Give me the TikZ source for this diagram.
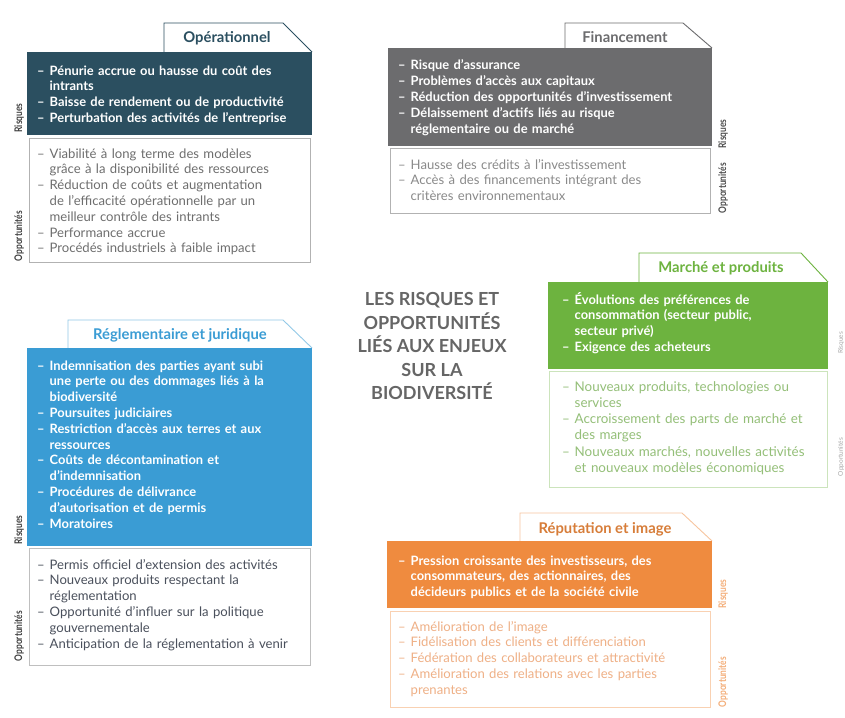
\documentclass[tikz,border=0pt]{standalone}
\usepackage{fontspec}
\setmainfont{Lato}
\definecolor{cteal}{HTML}{2B4F60}
\definecolor{cgrey}{HTML}{6C6C6E}
\definecolor{cgreen}{HTML}{6DB33F}
\definecolor{cblue}{HTML}{3A9CD4}
\definecolor{corange}{HTML}{EF8B3F}
\definecolor{tgrey}{HTML}{6E6E6E}
\definecolor{tgrey2}{HTML}{8A8A8A}
\definecolor{tgreen}{HTML}{94BF78}
\definecolor{tblue}{HTML}{4A505C}
\definecolor{torange}{HTML}{EFB086}
\definecolor{ctitle}{HTML}{666666}
\newcommand{\dl}{\makebox[12.5pt][l]{–}}
\newcommand{\ind}{\hspace*{12.5pt}}
\tikzset{
  riskbox/.style={anchor=base west, inner sep=0pt, text width=300pt, align=left, text=white,
    font=\fontsize{12.9}{15.8}\selectfont\bfseries},
  oppbox/.style={anchor=base west, inner sep=0pt, text width=320pt, align=left,
    font=\fontsize{13.1}{15.8}\selectfont},
  tabtitle/.style={inner sep=0pt, font=\fontsize{14.8}{16}\selectfont\bfseries},
  sidelab/.style={rotate=90, inner sep=0pt, font=\fontsize{10.5}{11}\selectfont\bfseries},
  tabline/.style={fill=white, line width=0.9pt},
  oppframe/.style={line width=0.8pt, fill=white}
}
\begin{document}
\begin{tikzpicture}[x=1pt,y=-1pt]
\useasboundingbox (0,0) rectangle (845,717);
\fill[white] (0,0) rectangle (845,717);

% ---------- Opérationnel ----------
\draw[tabline, draw=cteal] (164,52) -- (164,23) -- (283,23) -- (312,52);
\node[tabtitle, text=cteal] (t1) at (227,38) {Opérationnel};
\fill[cteal] (27,52) rectangle (312,135);
\draw[oppframe, draw=black!30] (29,138) rectangle (310,262);
\node[riskbox] (r1) at (37,75) {\dl Pénurie accrue ou hausse du coût des\\
\ind intrants\\
\dl Baisse de rendement ou de productivité\\
\dl Perturbation des activités de l’entreprise};
\node[oppbox, text=tgrey] (o1) at (37,158) {\dl Viabilité à long terme des modèles\\
\ind grâce à la disponibilité des ressources\\
\dl Réduction de coûts et augmentation\\
\ind de l’efficacité opérationnelle par un\\
\ind meilleur contrôle des intrants\\
\dl Performance accrue\\
\dl Procédés industriels à faible impact};
\node[sidelab, text=black!75] (s1a) at (19,118) {\scalebox{0.8}[1]{Risques}};
\node[sidelab, text=black!75] (s1b) at (19,236) {\scalebox{0.8}[1]{Opportunités}};

% ---------- Financement ----------
\draw[tabline, draw=cgrey] (565,48) -- (565,23) -- (683,23) -- (712,48);
\node[tabtitle, text=cgrey] (t2) at (625,37) {Financement};
\fill[cgrey] (388,48) rectangle (712,146);
\draw[oppframe, draw=black!30] (390,148) rectangle (710,213);
\node[riskbox] (r2) at (398,70) {\dl Risque d’assurance\\
\dl Problèmes d’accès aux capitaux\\
\dl Réduction des opportunités d’investissement\\
\dl Délaissement d’actifs liés au risque\\
\ind réglementaire ou de marché};
\node[oppbox, text=tgrey2] (o2) at (398,169) {\dl Hausse des crédits à l’investissement\\
\dl Accès à des financements intégrant des\\
\ind critères environnementaux};
\node[sidelab, text=black!70] (s2a) at (723,134) {\scalebox{0.8}[1]{Risques}};
\node[sidelab, text=black!70] (s2b) at (723,188) {\scalebox{0.8}[1]{Opportunités}};

% ---------- Marché et produits ----------
\draw[tabline, draw=cgreen] (639,282) -- (639,253) -- (801,253) -- (828,282);
\node[tabtitle, text=cgreen] (t3) at (721,268) {Marché et produits};
\fill[cgreen] (548,282) rectangle (828,369);
\draw[oppframe, draw=cgreen!35] (549,371) rectangle (827,487);
\node[riskbox] (r3) at (562,304) {\dl Évolutions des préférences de\\
\ind consommation (secteur public,\\
\ind secteur privé)\\
\dl Exigence des acheteurs};
\node[oppbox, text=tgreen, font=\fontsize{13.4}{16.3}\selectfont] (o3) at (562,391) {\dl Nouveaux produits, technologies ou\\
\ind services\\
\dl Accroissement des parts de marché et\\
\ind des marges\\
\dl Nouveaux marchés, nouvelles activités\\
\ind et nouveaux modèles économiques};
\node[sidelab, text=black!35, font=\fontsize{6.5}{7}\selectfont] (s3a) at (841,343) {Risques};
\node[sidelab, text=black!35, font=\fontsize{6.5}{7}\selectfont] (s3b) at (841,457) {Opportunités};

% ---------- Réglementaire et juridique ----------
\draw[tabline, draw=cblue!55] (68,348) -- (68,320) -- (283,320) -- (312,348);
\node[tabtitle, text=cblue] (t4) at (180,335) {Réglementaire et juridique};
\fill[cblue] (27,348) rectangle (312,546);
\draw[oppframe, draw=black!25] (29,548) rectangle (310,665);
\node[riskbox] (r4) at (37,370) {\dl Indemnisation des parties ayant subi\\
\ind une perte ou des dommages liés à la\\
\ind biodiversité\\
\dl Poursuites judiciaires\\
\dl Restriction d’accès aux terres et aux\\
\ind ressources\\
\dl Coûts de décontamination et\\
\ind d’indemnisation\\
\dl Procédures de délivrance\\
\ind d’autorisation et de permis\\
\dl Moratoires};
\node[oppbox, text=tblue] (o4) at (37,569) {\dl Permis officiel d’extension des activités\\
\dl Nouveaux produits respectant la\\
\ind réglementation\\
\dl Opportunité d’influer sur la politique\\
\ind gouvernementale\\
\dl Anticipation de la réglementation à venir};
\node[sidelab, text=black!75] (s4a) at (19,530) {\scalebox{0.8}[1]{Risques}};
\node[sidelab, text=black!75] (s4b) at (19,636) {\scalebox{0.8}[1]{Opportunités}};

% ---------- Réputation et image ----------
\draw[tabline, draw=corange!50] (520,541) -- (520,513) -- (682,513) -- (712,541);
\node[tabtitle, text=corange!90!black] (t5) at (605,529) {Réputation et image};
\fill[corange] (387,541) rectangle (712,608);
\draw[oppframe, draw=corange!40] (390,611) rectangle (710,707);
\node[riskbox] (r5) at (398,565) {\dl Pression croissante des investisseurs, des\\
\ind consommateurs, des actionnaires, des\\
\ind décideurs publics et de la société civile};
\node[oppbox, text=torange] (o5) at (398,631) {\dl Amélioration de l’image\\
\dl Fidélisation des clients et différenciation\\
\dl Fédération des collaborateurs et attractivité\\
\dl Amélioration des relations avec les parties\\
\ind prenantes};
\node[sidelab, text=corange!70] (s5a) at (723,594) {\scalebox{0.8}[1]{Risques}};
\node[sidelab, text=corange!70] (s5b) at (723,682) {\scalebox{0.8}[1]{Opportunités}};

% ---------- Title ----------
\node[align=center, inner sep=0pt, text=ctitle, font=\fontsize{18}{23.5}\selectfont\bfseries] (title) at (432,346)
{LES RISQUES ET\\OPPORTUNITÉS\\LIÉS AUX ENJEUX\\SUR LA\\BIODIVERSITÉ};
\end{tikzpicture}
\end{document}
